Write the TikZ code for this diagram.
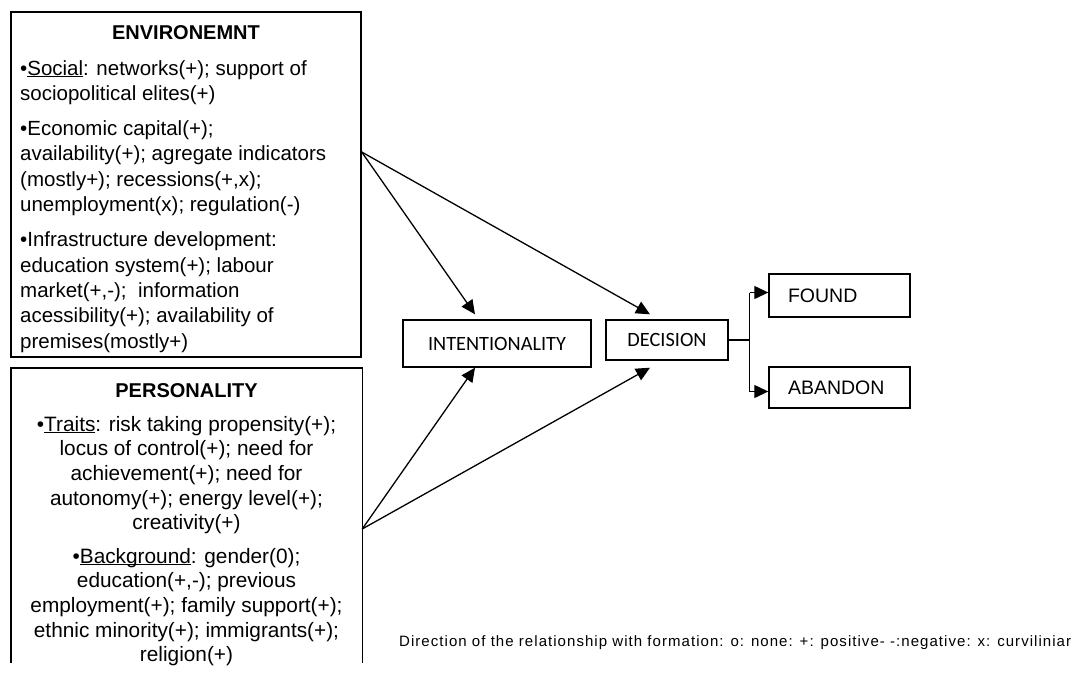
\documentclass[tikz,border=0pt]{standalone}
\usepackage{fontspec}
\setmainfont{Liberation Sans}
\newfontfamily\calibri{Carlito}
\newfontfamily\legendfont[LetterSpace=7]{Liberation Sans}
\usetikzlibrary{arrows.meta}
% underline sitting just below the baseline
\newcommand\baseul[1]{\underline{\smash{#1}}}
\begin{document}
\begin{tikzpicture}[x=1pt,y=-1pt,
  box/.style={draw, line width=1.4pt, inner sep=0pt},
  frame/.style={line width=1.4pt},
  link/.style={line width=1.3pt, -{Triangle[length=14pt,width=13pt]}},
  body/.style={font=\fontsize{20.5}{25.3}\selectfont, inner sep=0pt},
  head/.style={font=\fontsize{20}{24}\selectfont\bfseries, inner sep=0pt, anchor=base},
  stage/.style={box, font=\calibri\fontsize{20.3}{24}\selectfont},
  outcome/.style={box, minimum width=141pt, text width=103pt, inner xsep=19pt,
    align=left, font=\fontsize{19.5}{23}\selectfont},
]
\useasboundingbox (0,0) rectangle (1081,673);

% environment factors
\node[box, minimum width=350pt, minimum height=345pt] (env) at (186,184.5) {};
\node[head] (envtitle) at (186,39) {ENVIRONEMNT};
\node[body, anchor=north west, align=left] (envtext) at (20,60) {%
\textbullet\baseul{Social}: networks(+); support of\\
sociopolitical elites(+)\\[10pt]
\textbullet Economic capital(+);\\
availability(+); agregate indicators\\
(mostly+); recessions(+,x);\\
unemployment(x); regulation(-)\\[10pt]
\textbullet Infrastructure development:\\
education system(+); labour\\
market(+,-);\ \ information\\
acessibility(+); availability of\\
premises(mostly+)};

% personality factors (box runs off the lower edge)
\node[minimum width=351pt, minimum height=295pt, inner sep=0pt] (pers) at (186.5,515.5) {};
\draw[frame] (pers.south west) -- (pers.north west) -- (pers.north east) -- (pers.south east);
\node[head] (perstitle) at (186.5,397) {PERSONALITY};
\node[body, font=\fontsize{20.8}{24.6}\selectfont, anchor=north, align=center] (perstext) at (186.5,416) {%
\textbullet\baseul{Traits}: risk taking propensity(+);\\
locus of control(+); need for\\
achievement(+); need for\\
autonomy(+); energy level(+);\\
creativity(+)\\[9pt]
\textbullet\baseul{Background}: gender(0);\\
education(+,-); previous\\
employment(+); family support(+);\\
ethnic minority(+); immigrants(+);\\
religion(+)};

% process stages
\node[stage, minimum width=188pt, minimum height=47pt] (intent) at (497,343.5) {INTENTIONALITY};
\node[stage, minimum width=122pt, minimum height=40pt] (decision) at (667,340) {DECISION};
\node[outcome, minimum height=43pt] (found) at (839.5,295.5) {FOUND};
\node[outcome, minimum height=41pt] (abandon) at (839.5,387.5) {ABANDON};

% influences
\coordinate (envout) at ([yshift=32.5pt]env.east);
\coordinate (persout) at ([yshift=-13.5pt]pers.east);
\draw[link] (envout) -- ([xshift=-22pt,yshift=5pt]intent.north);
\draw[link] (envout) -- ([xshift=-17pt,yshift=5pt]decision.north);
\draw[link] (persout) -- ([xshift=-22pt]intent.south);
\draw[link] (persout) -- ([xshift=-17pt,yshift=-7pt]decision.south);

% outcome fork
\draw[line width=1.3pt] (decision.east) -- ++(21,0) coordinate (fork);
\coordinate (foundin) at ([yshift=3pt]found.west);
\coordinate (abandonin) at ([yshift=-4pt]abandon.west);
\draw[line width=1.3pt] (fork |- foundin) -- (fork |- abandonin);
\draw[link] (fork |- foundin) -- (foundin);
\draw[link] (fork |- abandonin) -- (abandonin);

% legend
\node[anchor=base west, font=\legendfont\fontsize{15}{18}\selectfont, inner sep=0pt] (legend) at (399,646)
  {Direction of the relationship with formation: o: none: +: positive- -:negative: x: curviliniar};
\end{tikzpicture}
\end{document}
